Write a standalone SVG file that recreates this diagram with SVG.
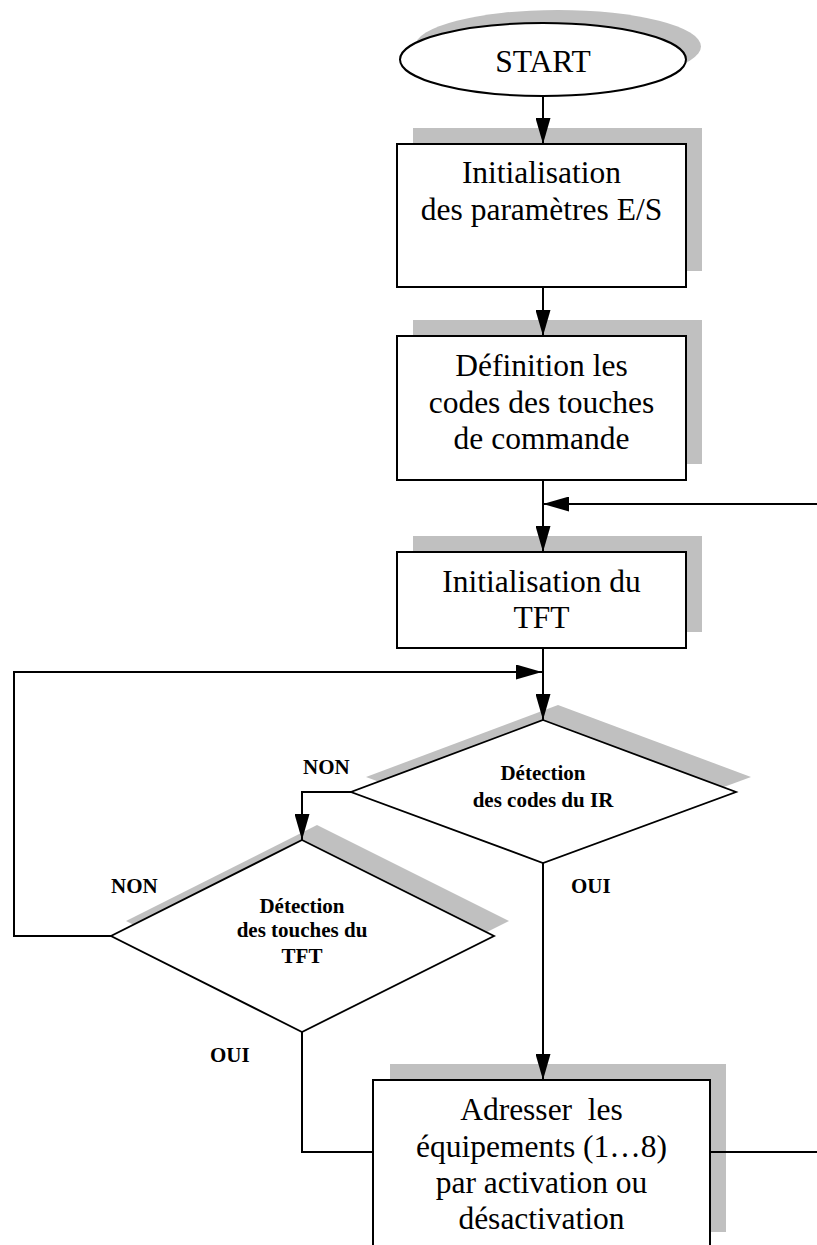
<svg xmlns="http://www.w3.org/2000/svg" width="817" height="1245" viewBox="0 0 817 1245">
  <style>
    .shadow { fill: #c0c0c0; stroke: none; }
    .shape { fill: #ffffff; stroke: #000000; stroke-width: 2; }
    .dia { fill: #ffffff; stroke: #000000; stroke-width: 1.8; }
    .line { fill: none; stroke: #000000; stroke-width: 2; }
    .txt { font-family: "Liberation Serif", "Times New Roman", serif; font-size: 31.5px; fill: #000000; text-anchor: middle; }
    .btxt { font-family: "Liberation Serif", "Times New Roman", serif; font-size: 21px; font-weight: bold; fill: #000000; text-anchor: middle; }
    .lbl { font-family: "Liberation Serif", "Times New Roman", serif; font-size: 21px; font-weight: bold; fill: #000000; }
  </style>
  <defs>
    <marker id="arrow" markerUnits="userSpaceOnUse" markerWidth="26" markerHeight="15" refX="26" refY="7.5" orient="auto">
      <path d="M0,0 L26,7.5 L0,15 Z" fill="#000000"/>
    </marker>
  </defs>
  <rect width="817" height="1245" fill="#ffffff"/>

  <!-- START terminal -->
  <g id="start">
    <ellipse class="shadow" cx="558" cy="46.5" rx="143" ry="36.5"/>
    <ellipse class="shape" cx="543" cy="59.5" rx="143" ry="36.5"/>
    <text class="txt" x="543" y="72">START</text>
  </g>

  <!-- I/O parameter initialisation -->
  <g id="init-io">
    <rect class="shadow" x="413" y="128" width="289" height="143"/>
    <rect class="shape" x="397" y="144" width="289" height="143"/>
    <text class="txt" x="541.5" y="183">Initialisation</text>
    <text class="txt" x="541.5" y="220">des paramètres E/S</text>
  </g>

  <!-- Command key codes -->
  <g id="define-codes">
    <rect class="shadow" x="413" y="320" width="289" height="144"/>
    <rect class="shape" x="397" y="336" width="289" height="144"/>
    <text class="txt" x="541.5" y="376">Définition les</text>
    <text class="txt" x="541.5" y="413">codes des touches</text>
    <text class="txt" x="541.5" y="449">de commande</text>
  </g>

  <!-- TFT initialisation -->
  <g id="init-tft">
    <rect class="shadow" x="413" y="536" width="289" height="96"/>
    <rect class="shape" x="397" y="552" width="289" height="96"/>
    <text class="txt" x="541.5" y="592">Initialisation du</text>
    <text class="txt" x="541.5" y="628">TFT</text>
  </g>

  <!-- IR code detection -->
  <g id="detect-ir">
    <polygon class="shadow" points="558,705 751,777 558,848 366,777"/>
    <polygon class="dia" points="543,720 736,792 543,863 351,792"/>
    <text class="btxt" x="543" y="780">Détection</text>
    <text class="btxt" x="543" y="807">des codes du IR</text>
  </g>

  <!-- TFT key detection -->
  <g id="detect-tft">
    <polygon class="shadow" points="317,825 509,921 317,1017 126,921"/>
    <polygon class="dia" points="302,840 494,936 302,1032 111,936"/>
    <text class="btxt" x="302" y="913">Détection</text>
    <text class="btxt" x="302" y="937">des touches du</text>
    <text class="btxt" x="302" y="963">TFT</text>
  </g>

  <!-- Equipment addressing -->
  <g id="address">
    <rect class="shadow" x="390" y="1064" width="336" height="168"/>
    <rect class="shape" x="373" y="1080" width="337" height="175"/>
    <text class="txt" x="541.5" y="1120" xml:space="preserve">Adresser  les</text>
    <text class="txt" x="541.5" y="1157">équipements (1…8)</text>
    <text class="txt" x="541.5" y="1193">par activation ou</text>
    <text class="txt" x="541.5" y="1229">désactivation</text>
  </g>

  <!-- Connectors -->
  <g id="connectors">
    <line class="line" x1="543" y1="96" x2="543" y2="144" marker-end="url(#arrow)"/>
    <line class="line" x1="543" y1="287" x2="543" y2="336" marker-end="url(#arrow)"/>
    <line class="line" x1="543" y1="480" x2="543" y2="552" marker-end="url(#arrow)"/>
    <line class="line" x1="817" y1="504" x2="543" y2="504" marker-end="url(#arrow)"/>
    <line class="line" x1="543" y1="648" x2="543" y2="720" marker-end="url(#arrow)"/>
    <polyline class="line" points="111,936 14,936 14,672 542,672" marker-end="url(#arrow)"/>
    <polyline class="line" points="351,792 302,792 302,840" marker-end="url(#arrow)"/>
    <line class="line" x1="543" y1="863" x2="543" y2="1080" marker-end="url(#arrow)"/>
    <polyline class="line" points="302,1032 302,1152 373,1152"/>
    <line class="line" x1="710" y1="1152" x2="817" y2="1152"/>
  </g>

  <!-- Branch labels -->
  <g id="labels">
    <text class="lbl" x="303" y="774">NON</text>
    <text class="lbl" x="111" y="893">NON</text>
    <text class="lbl" x="571" y="893">OUI</text>
    <text class="lbl" x="210" y="1062">OUI</text>
  </g>
</svg>
